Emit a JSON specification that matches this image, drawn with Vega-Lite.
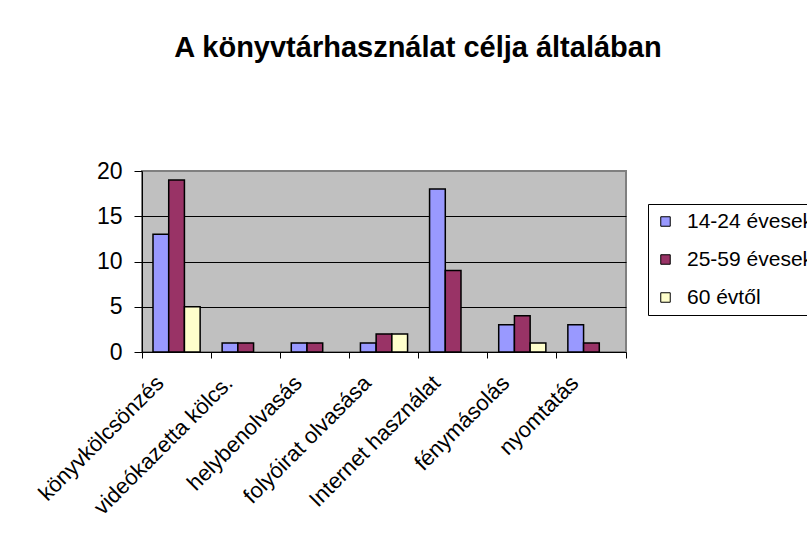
{
  "$schema": "https://vega.github.io/schema/vega-lite/v6.json",
  "autosize": {"type": "none"},
  "padding": {"left": 142, "top": 171, "right": 181, "bottom": 190},
  "width": 484,
  "height": 181,
  "background": "white",
  "title": {
    "text": "A könyvtárhasználat célja általában",
    "font": "Liberation Sans",
    "fontSize": 29,
    "fontWeight": "bold",
    "color": "black",
    "anchor": "middle",
    "dx": 34,
    "offset": 97
  },
  "data": {
    "values": [
      {"cat": "könyvkölcsönzés", "grp": "14-24 évesek", "v": 13},
      {"cat": "könyvkölcsönzés", "grp": "25-59 évesek", "v": 19},
      {"cat": "könyvkölcsönzés", "grp": "60 évtől", "v": 5},
      {"cat": "videókazetta kölcs.", "grp": "14-24 évesek", "v": 1},
      {"cat": "videókazetta kölcs.", "grp": "25-59 évesek", "v": 1},
      {"cat": "helybenolvasás", "grp": "14-24 évesek", "v": 1},
      {"cat": "helybenolvasás", "grp": "25-59 évesek", "v": 1},
      {"cat": "folyóirat olvasása", "grp": "14-24 évesek", "v": 1},
      {"cat": "folyóirat olvasása", "grp": "25-59 évesek", "v": 2},
      {"cat": "folyóirat olvasása", "grp": "60 évtől", "v": 2},
      {"cat": "Internet használat", "grp": "14-24 évesek", "v": 18},
      {"cat": "Internet használat", "grp": "25-59 évesek", "v": 9},
      {"cat": "fénymásolás", "grp": "14-24 évesek", "v": 3},
      {"cat": "fénymásolás", "grp": "25-59 évesek", "v": 4},
      {"cat": "fénymásolás", "grp": "60 évtől", "v": 1},
      {"cat": "nyomtatás", "grp": "14-24 évesek", "v": 3},
      {"cat": "nyomtatás", "grp": "25-59 évesek", "v": 1}
    ]
  },
  "mark": {"type": "bar", "stroke": "black", "strokeWidth": 1.5},
  "encoding": {
    "x": {
      "field": "cat",
      "type": "nominal",
      "sort": null,
      "scale": {"paddingInner": 0, "paddingOuter": 0},
      "axis": {
        "title": null,
        "bandPosition": 1,
        "tickExtra": true,
        "labelOffset": -16.5,
        "labelAngle": -45,
        "labelAlign": "right",
        "labelBaseline": "middle",
        "labelFont": "Liberation Sans",
        "labelFontSize": 22,
        "labelColor": "black",
        "labelPadding": 21,
        "labelLimit": 400,
        "labelOverlap": false,
        "domainColor": "black",
        "tickColor": "black",
        "tickSize": 6,
        "grid": false
      }
    },
    "xOffset": {
      "field": "grp",
      "type": "nominal",
      "scale": {"paddingInner": 0, "paddingOuter": 0.7}
    },
    "y": {
      "field": "v",
      "type": "quantitative",
      "scale": {"domain": [0, 20], "nice": false},
      "axis": {
        "title": null,
        "values": [0, 5, 10, 15, 20],
        "labelFont": "Liberation Sans",
        "labelFontSize": 23,
        "labelColor": "black",
        "labelPadding": 12,
        "domainColor": "black",
        "tickColor": "black",
        "tickSize": 8,
        "grid": true,
        "gridColor": {"condition": {"test": "datum.value === 20 || datum.value === 0", "value": "#808080"}, "value": "black"},
        "gridWidth": 1,
        "gridOpacity": 1
      }
    },
    "color": {
      "field": "grp",
      "type": "nominal",
      "scale": {"domain": ["14-24 évesek", "25-59 évesek", "60 évtől"], "range": ["#9999FF", "#993366", "#FFFFCC"]},
      "legend": {
        "title": null,
        "orient": "none",
        "legendX": 506,
        "legendY": 33,
        "strokeColor": "black",
        "fillColor": "white",
        "padding": 7,
        "symbolType": "square",
        "symbolSize": 90,
        "symbolStrokeColor": "black",
        "symbolStrokeWidth": 1,
        "symbolOpacity": 1,
        "labelFont": "Liberation Sans",
        "labelFontSize": 21,
        "labelColor": "black",
        "labelLimit": 400,
        "rowPadding": 16,
        "labelOffset": 11
      }
    }
  },
  "config": {
    "view": {"fill": "#c0c0c0", "stroke": "#808080", "strokeWidth": 2}
  }
}
